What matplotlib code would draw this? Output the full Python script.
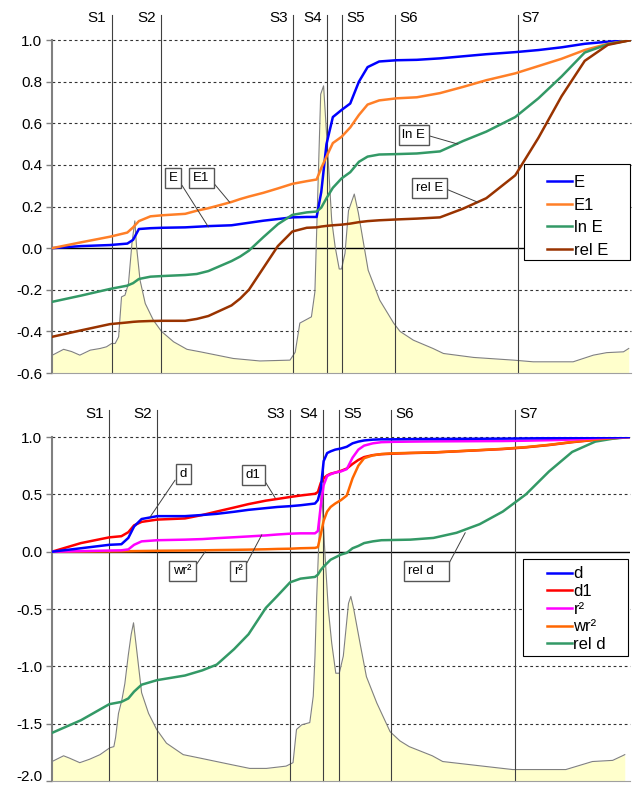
import matplotlib
matplotlib.use('Agg')
import matplotlib.pyplot as plt
from matplotlib.patches import Rectangle
from matplotlib.transforms import ScaledTranslation

plt.rcParams['font.family'] = ['Liberation Sans', 'DejaVu Sans']
plt.rcParams['axes.unicode_minus'] = False

# section markers (x in % of the profile length)
s_names = ['S1', 'S2', 'S3', 'S4', 'S5', 'S6', 'S7']
s_top = [10.3, 18.9, 41.7, 47.5, 50.1, 59.2, 80.4]
s_bot = [9.9, 18.2, 41.2, 46.9, 49.7, 58.7, 80.1]

# top panel curves
top_x = [0, 5, 10, 13, 14, 15, 17, 19, 23, 25, 27, 31, 32.5, 34, 36.5, 39, 41.5, 44, 45.7, 46.5,
         47.4, 48.5, 50, 51.5, 53, 54.5, 56.5, 59.5, 63, 67, 71, 75, 80, 84, 88, 92, 96, 100]
E = [0, 0.01, 0.015, 0.022, 0.04, 0.092, 0.096, 0.098, 0.1, 0.103, 0.106, 0.11, 0.116, 0.122,
     0.132, 0.14, 0.148, 0.15, 0.15, 0.27, 0.50, 0.63, 0.664, 0.695, 0.80, 0.87, 0.897, 0.903,
     0.905, 0.912, 0.922, 0.932, 0.942, 0.952, 0.965, 0.982, 0.992, 1.0]
E1 = [0, 0.028, 0.055, 0.075, 0.1, 0.13, 0.153, 0.158, 0.165, 0.18, 0.192, 0.222, 0.236, 0.248,
      0.266, 0.287, 0.309, 0.322, 0.33, 0.385, 0.44, 0.505, 0.535, 0.58, 0.64, 0.69, 0.71, 0.72,
      0.725, 0.745, 0.775, 0.807, 0.84, 0.875, 0.91, 0.952, 0.982, 1.0]
lnE = [-0.258, -0.228, -0.196, -0.18, -0.168, -0.148, -0.137, -0.134, -0.129, -0.124, -0.11,
       -0.062, -0.04, -0.012, 0.053, 0.115, 0.16, 0.172, 0.176, 0.195, 0.24, 0.29, 0.335, 0.365,
       0.415, 0.44, 0.45, 0.452, 0.455, 0.465, 0.515, 0.56, 0.63, 0.72, 0.825, 0.94, 0.98, 1.0]
relE = [-0.426, -0.395, -0.365, -0.357, -0.354, -0.352, -0.35, -0.349, -0.349, -0.34, -0.326,
        -0.275, -0.242, -0.2, -0.095, 0.01, 0.08, 0.098, 0.1, 0.104, 0.107, 0.11, 0.113, 0.118,
        0.125, 0.13, 0.134, 0.138, 0.142, 0.148, 0.19, 0.24, 0.35, 0.53, 0.73, 0.9, 0.977, 1.0]

top_peak_x = [0, 2.0, 3.4, 4.8, 6.6, 8.3, 9.4, 10.3, 10.9, 11.5, 12.0, 12.6, 13.2, 13.8, 14.3,
              14.6, 15.2, 16.1, 17.5, 18.9, 21.0, 23.3, 25.6, 31.3, 35.9, 41.1, 42.0, 42.8, 44.8,
              45.4, 46.4, 46.9, 47.7, 48.3, 48.9, 49.6, 50.0, 50.6, 51.2, 52.2, 52.9, 54.6, 56.6,
              59.0, 60.1, 62.4, 65.8, 67.6, 72.8, 79.7, 83.1, 90.0, 93.5, 95.8, 98.7, 99.6]
top_peak = [-0.515, -0.486, -0.497, -0.514, -0.49, -0.482, -0.474, -0.458, -0.458, -0.426,
            -0.234, -0.226, -0.17, 0.022, 0.131, 0.006, -0.154, -0.266, -0.346, -0.40, -0.45,
            -0.486, -0.498, -0.53, -0.542, -0.538, -0.5, -0.36, -0.33, -0.21, 0.74, 0.78, 0.42,
            0.134, 0.006, -0.1, -0.1, -0.025, 0.18, 0.26, 0.17, -0.106, -0.25, -0.36, -0.40,
            -0.442, -0.482, -0.506, -0.525, -0.538, -0.546, -0.546, -0.514, -0.502, -0.498, -0.482]

# bottom panel curves
bot_x = [0, 5, 9.9, 12, 13.2, 14.2, 15.5, 18.2, 23, 26, 28.5, 31.5, 34, 37, 39, 41.2, 43, 45.5,
         46, 46.5, 47, 47.6, 48.2, 49, 50, 51, 52, 53, 54, 55.5, 57, 59, 62, 66, 70, 74, 78, 82,
         86, 90, 94, 97, 100]
d = [0, 0.03, 0.06, 0.065, 0.12, 0.22, 0.285, 0.31, 0.31, 0.32, 0.33, 0.348, 0.365, 0.38, 0.39,
     0.397, 0.405, 0.42, 0.45, 0.55, 0.79, 0.86, 0.875, 0.89, 0.9, 0.915, 0.945, 0.96, 0.97,
     0.977, 0.98, 0.98, 0.982, 0.983, 0.984, 0.985, 0.986, 0.988, 0.99, 0.992, 0.995, 0.997, 1.0]
d1 = [0, 0.075, 0.125, 0.135, 0.17, 0.23, 0.26, 0.28, 0.29, 0.32, 0.35, 0.385, 0.415, 0.445,
      0.46, 0.477, 0.49, 0.505, 0.52, 0.6, 0.64, 0.665, 0.68, 0.69, 0.705, 0.725, 0.765, 0.80,
      0.825, 0.842, 0.85, 0.855, 0.86, 0.865, 0.875, 0.885, 0.895, 0.91, 0.93, 0.955, 0.975,
      0.99, 1.0]
r2 = [0, 0.005, 0.01, 0.012, 0.02, 0.06, 0.09, 0.1, 0.105, 0.11, 0.118, 0.126, 0.133, 0.142,
      0.15, 0.157, 0.16, 0.16, 0.18, 0.4, 0.58, 0.66, 0.675, 0.69, 0.70, 0.72, 0.82, 0.89, 0.925,
      0.945, 0.955, 0.958, 0.96, 0.962, 0.963, 0.964, 0.965, 0.968, 0.972, 0.978, 0.988, 0.995,
      1.0]
wr2 = [0, 0.001, 0.002, 0.003, 0.004, 0.005, 0.006, 0.008, 0.01, 0.012, 0.014, 0.016, 0.018,
       0.021, 0.024, 0.026, 0.03, 0.033, 0.04, 0.15, 0.27, 0.35, 0.39, 0.42, 0.45, 0.49, 0.64,
       0.75, 0.815, 0.84, 0.852, 0.858, 0.862, 0.866, 0.876, 0.886, 0.897, 0.912, 0.932, 0.957,
       0.977, 0.99, 1.0]
reld = [-1.58, -1.47, -1.33, -1.31, -1.28, -1.22, -1.16, -1.12, -1.08, -1.035, -0.985, -0.85,
        -0.72, -0.49, -0.385, -0.267, -0.235, -0.22, -0.2, -0.16, -0.13, -0.1, -0.07, -0.05,
        -0.025, -0.01, 0.03, 0.05, 0.075, 0.09, 0.1, 0.102, 0.105, 0.12, 0.165, 0.24, 0.35, 0.5,
        0.7, 0.87, 0.96, 0.985, 1.0]

bot_peak_x = [0, 2.0, 3.0, 4.8, 6.5, 8.3, 10.0, 10.7, 11.0, 11.5, 12.1, 12.6, 13.2, 13.7, 14.1,
              14.7, 15.5, 16.7, 18.1, 19.8, 22.7, 25.6, 31.3, 34.2, 37.1, 40.5, 41.7, 42.3, 43.2,
              44.6, 45.2, 45.5, 45.8, 46.1, 46.6, 47.2, 47.8, 48.4, 49.1, 49.7, 50.4, 51.3, 51.7,
              52.2, 53.3, 54.4, 56.2, 58.5, 60.2, 61.8, 65.8, 67.6, 74.5, 79.7, 88.9, 93.5, 97.0,
              98.7, 99.1]
bot_peak = [-1.83, -1.78, -1.80, -1.84, -1.81, -1.77, -1.71, -1.70, -1.62, -1.41, -1.29, -1.15,
            -0.9, -0.72, -0.62, -0.88, -1.23, -1.41, -1.55, -1.67, -1.77, -1.8, -1.86, -1.89,
            -1.89, -1.87, -1.84, -1.55, -1.51, -1.49, -1.26, -0.91, -0.39, 0.0, 0.59, 0.0, -0.5,
            -0.8, -1.06, -1.06, -0.91, -0.45, -0.39, -0.5, -0.8, -1.09, -1.32, -1.57, -1.65,
            -1.7, -1.78, -1.83, -1.87, -1.9, -1.9, -1.83, -1.82, -1.78, -1.77]

fig = plt.figure(figsize=(6.33, 7.87), dpi=100)
ax1 = fig.add_axes([0.0822, 0.526, 0.9147, 0.4231])
ax2 = fig.add_axes([0.0822, 0.0076, 0.913, 0.4371])


def setup(ax, ymin, ymax, ticks, s_pos, line_top):
    ax.set_xlim(0, 100)
    ax.set_ylim(ymin, ymax)
    ax.set_xticks([])
    ax.set_yticks(ticks)
    ax.set_yticklabels(['%.1f' % t for t in ticks])
    ax.tick_params(axis='y', direction='out', length=4, width=1, color='#808080',
                   labelsize=11, pad=3)
    for side in ['top', 'right']:
        ax.spines[side].set_visible(False)
    ax.spines['left'].set_color('#808080')
    ax.spines['left'].set_linewidth(1.5)
    ax.spines['bottom'].set_color('#a0a0a0')
    ax.spines['bottom'].set_linewidth(0.8)
    for t in ticks:
        if t == 0:
            ax.axhline(0, color='black', lw=1, zorder=1.5)
        elif t != ymin:
            ax.axhline(t, color='#333333', lw=0.8, ls=(0, (2.5, 2.5)), zorder=0.5, clip_on=False)
    for i, (name, s) in enumerate(zip(s_names, s_pos)):
        ax.plot([s, s], [0, line_top], transform=ax.get_xaxis_transform(), color='#404040',
                lw=0.8, clip_on=False, zorder=2.5)
        off = -4 if i < 4 else 3
        ax.annotate(name, xy=(s, line_top - 0.01), xycoords=ax.get_xaxis_transform(),
                    xytext=(off, 0), textcoords='offset points',
                    ha='right' if i < 4 else 'left', va='center', fontsize=11)


def label(ax, text, target, pos, relpos):
    ax.annotate(text, xy=target, xytext=pos, fontsize=9.5, ha='center', va='center',
                bbox=dict(boxstyle='square,pad=0.3', fc='white', ec='#555555', lw=1),
                arrowprops=dict(arrowstyle='-', color='#404040', lw=0.7, relpos=relpos,
                                shrinkA=0, shrinkB=0),
                zorder=4)


# ---- top panel ----
setup(ax1, -0.6, 1.0, [1.0, 0.8, 0.6, 0.4, 0.2, 0.0, -0.2, -0.4, -0.6], s_top, 1.075)
ax1.fill_between(top_peak_x, top_peak, -0.6, color='#FFFFCC', lw=0, zorder=1)
ax1.plot(top_peak_x, top_peak, color='#808080', lw=0.8, zorder=2)
ax1.plot(top_x, E, color='#0000FF', lw=1.8, label='E', zorder=3)
ax1.plot(top_x, E1, color='#FF7F27', lw=1.8, label='E1', zorder=3)
ax1.plot(top_x, lnE, color='#339966', lw=1.8, label='ln E', zorder=3)
ax1.plot(top_x, relE, color='#993300', lw=1.8, label='rel E', zorder=3)

label(ax1, 'E', (27.0, 0.102), (20.9, 0.336), (1, 0.5))
label(ax1, 'E1', (30.7, 0.22), (25.8, 0.336), (1, 0.5))
label(ax1, 'ln E', (70.1, 0.5), (62.5, 0.545), (1, 0.5))
label(ax1, 'rel E', (73.6, 0.22), (65.2, 0.29), (1, 0.5))

ax1.add_patch(Rectangle((0.815, 0.339), 0.183, 0.289, transform=ax1.transAxes, fc='white',
                        ec='black', lw=0.8, zorder=5, clip_on=False))
leg1 = ax1.legend(loc='upper left', bbox_to_anchor=(0.855, 0.594), fontsize=12, frameon=False,
                  handlelength=1.5, handletextpad=0.1, labelspacing=0.45, borderpad=0,
                  borderaxespad=0)
leg1.set_zorder(6)

# ---- bottom panel ----
setup(ax2, -2.0, 1.0, [1.0, 0.5, 0.0, -0.5, -1.0, -1.5, -2.0], s_bot, 1.078)
ax2.fill_between(bot_peak_x, bot_peak, -2.0, color='#FFFFCC', lw=0, zorder=1)
ax2.plot(bot_peak_x, bot_peak, color='#808080', lw=0.8, zorder=2)
ax2.plot(bot_x, d, color='#0000FF', lw=1.8, label='d', zorder=3.2)
ax2.plot(bot_x, d1, color='#FF0000', lw=1.8, label='d1', zorder=3)
ax2.plot(bot_x, r2, color='#FF00FF', lw=1.8, label='r²', zorder=3.1)
ax2.plot(bot_x, wr2, color='#FF6600', lw=1.8, label='wr²', zorder=3.05)
ax2.plot(bot_x, reld, color='#339966', lw=1.8, label='rel d', zorder=3)

label(ax2, 'd', (17.0, 0.305), (22.7, 0.676), (0, 0.55))
label(ax2, 'd1', (38.6, 0.47), (34.8, 0.67), (1, 0.55))
label(ax2, 'wr²', (26.5, 0.0), (22.6, -0.17), (1, 0.5))
label(ax2, 'r²', (36.3, 0.148), (32.2, -0.17), (1, 0.5))
label(ax2, 'rel d   ', (71.5, 0.166), (64.8, -0.17), (1, 0.5))

ax2.add_patch(Rectangle((0.815, 0.363), 0.182, 0.282, transform=ax2.transAxes, fc='white',
                        ec='black', lw=0.8, zorder=5, clip_on=False))
leg2 = ax2.legend(loc='upper left', bbox_to_anchor=(0.856, 0.624), fontsize=12, frameon=False,
                  handlelength=1.5, handletextpad=0.1, labelspacing=0.16, borderpad=0,
                  borderaxespad=0)
leg2.set_zorder(6)

# keep the lowest tick label inside the figure
last = ax2.get_yticklabels()[-1]
last.set_transform(last.get_transform() + ScaledTranslation(0, 4 / 72, fig.dpi_scale_trans))

fig.savefig('out.png', dpi=100)
